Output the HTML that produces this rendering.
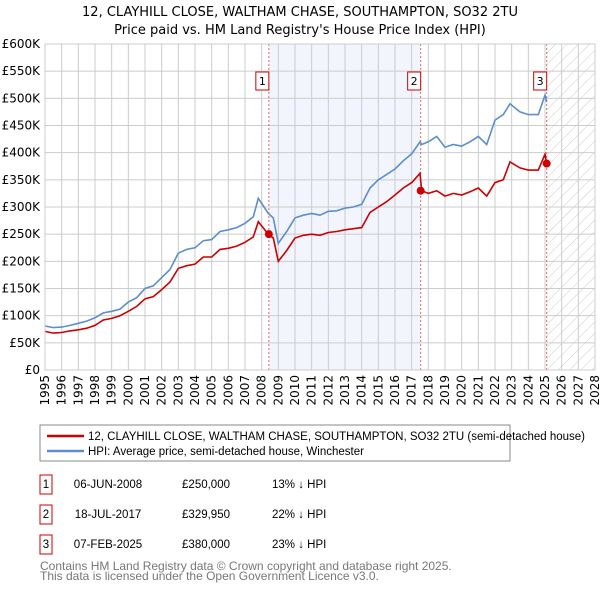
<!DOCTYPE html>
<html><head><meta charset="utf-8"><style>
body{margin:0;background:#fff;font-family:"Liberation Sans","DejaVu Sans",sans-serif;}
svg text{font-family:"DejaVu Sans","Liberation Sans",sans-serif;}
svg text.ls{font-family:"Liberation Sans",sans-serif;}
</style></head><body>
<svg id="c" width="600" height="590" xmlns="http://www.w3.org/2000/svg">
<defs><pattern id="hatch" width="8" height="8" patternUnits="userSpaceOnUse" patternTransform="rotate(45)"><line x1="0" y1="0" x2="0" y2="8" stroke="#ccc" stroke-width="1"/></pattern></defs>
<text x="300" y="16" text-anchor="middle" font-size="13">12, CLAYHILL CLOSE, WALTHAM CHASE, SOUTHAMPTON, SO32 2TU</text>
<text x="300" y="34" text-anchor="middle" font-size="13">Price paid vs. HM Land Registry's House Price Index (HPI)</text>
<g id="plot"></g>
<rect x="40" y="425" width="470" height="36" fill="#fff" stroke="#888"/>
<line x1="47" y1="436" x2="84" y2="436" stroke="#cc0000" stroke-width="2.5"/>
<text class="ls" x="88" y="440" font-size="11.5">12, CLAYHILL CLOSE, WALTHAM CHASE, SOUTHAMPTON, SO32 2TU (semi-detached house)</text>
<line x1="47" y1="451" x2="84" y2="451" stroke="#5b8dd0" stroke-width="2.5"/>
<text class="ls" x="88" y="455" font-size="11.5">HPI: Average price, semi-detached house, Winchester</text>
<g id="tbl" font-size="11.5"></g>
<text class="ls" x="40" y="570" font-size="12" fill="#777">Contains HM Land Registry data © Crown copyright and database right 2025.</text>
<text class="ls" x="40" y="580" font-size="12" fill="#777">This data is licensed under the Open Government Licence v3.0.</text>
</svg>
<script>
const dates=[1995.0,1995.5,1996.0,1996.5,1997.0,1997.5,1998.0,1998.5,1999.0,1999.5,2000.0,2000.5,2001.0,2001.5,2002.0,2002.5,2003.0,2003.5,2004.0,2004.5,2005.0,2005.5,2006.0,2006.5,2007.0,2007.5,2007.8,2008.4,2008.7,2009.0,2009.5,2010.0,2010.5,2011.0,2011.5,2012.0,2012.5,2013.0,2013.5,2014.0,2014.5,2015.0,2015.5,2016.0,2016.5,2017.0,2017.5,2017.6,2018.0,2018.5,2019.0,2019.5,2020.0,2020.5,2021.0,2021.5,2022.0,2022.5,2022.9,2023.5,2024.0,2024.6,2025.0,2025.1];
const hpiValues=[81,78,79,82,86,90,96,105,108,112,125,133,150,155,170,185,215,222,225,238,240,255,258,262,270,282,316,288,280,233,255,280,285,288,285,292,293,298,300,305,335,350,360,370,385,398,420,415,420,430,410,415,412,420,430,415,460,470,490,475,470,470,506,493];
const priceValues=[71,68,69,72,74,77,82,92,95,100,108,117,131,135,148,162,187,192,195,208,208,222,224,228,235,245,273,250,243,200,220,243,248,250,248,253,255,258,260,262,290,300,310,322,335,345,362,330,325,330,320,325,322,328,335,320,345,350,383,372,368,368,397,380];
const saleDates=[2008.43,2017.54,2025.1];
const salePrices=[250,329.95,380];
const saleLabels=["1","2","3"];
const saleDateText=["06-JUN-2008","18-JUL-2017","07-FEB-2025"];
const salePriceText=["£250,000","£329,950","£380,000"];
const saleHpiText=["13% ↓ HPI","22% ↓ HPI","23% ↓ HPI"];
const yTicks=[0,50,100,150,200,250,300,350,400,450,500,550,600];
const yTickLabels=["£0","£50K","£100K","£150K","£200K","£250K","£300K","£350K","£400K","£450K","£500K","£550K","£600K"];
const xTicks=[1995,1996,1997,1998,1999,2000,2001,2002,2003,2004,2005,2006,2007,2008,2009,2010,2011,2012,2013,2014,2015,2016,2017,2018,2019,2020,2021,2022,2023,2024,2025,2026,2027,2028];

const X0=45,X1=595,Y0=370,Y1=44;
const xs=d=>X0+(d-1995)/(2028-1995)*(X1-X0);
const ys=v=>Y0-v/600*(Y0-Y1);
const NS="http://www.w3.org/2000/svg";
const plot=document.getElementById('plot');
function mk(tag,attrs,parent){const e=document.createElementNS(NS,tag);for(const k in attrs)e.setAttribute(k,attrs[k]);(parent||plot).appendChild(e);return e;}

let e;
e=mk('rect',{x:xs(saleDates[0]),y:Y1,width:xs(saleDates[1])-xs(saleDates[0]),height:Y0-Y1,fill:'#f2f5fd'});


e=mk('rect',{x:xs(saleDates[2]),y:Y1,width:X1-xs(saleDates[2]),height:Y0-Y1,fill:'url(#hatch)'});


yTicks.forEach((t,i)=>{
  e=mk('line',{x1:X0,x2:X1,y1:ys(t),y2:ys(t),stroke:'#ccc','stroke-width':1});
  
  
  e=mk('text',{x:X0-5,y:ys(t)+4,'text-anchor':'end','font-size':12});
  e.textContent=yTickLabels[i];
  
  
});
xTicks.forEach(t=>{
  e=mk('line',{x1:xs(t),x2:xs(t),y1:Y1,y2:Y0,stroke:'#ccc','stroke-width':1});
  
  
  e=mk('text',{x:0,y:0,'text-anchor':'end','font-size':12,transform:`translate(${xs(t)+4},${Y0+5}) rotate(-90)`});
  e.textContent=t;
  
  
});
saleDates.forEach((d,i)=>{
  e=mk('line',{x1:xs(d),x2:xs(d),y1:Y1,y2:Y0,stroke:'#e66',"stroke-dasharray":'2,2','stroke-width':1});
  
  
});
function path(vals){return vals.map((v,i)=>(i?'L':'M')+xs(dates[i]).toFixed(1)+','+ys(v).toFixed(1)).join('');}
e=mk('path',{d:path(hpiValues),fill:'none',stroke:'#5b8dd0','stroke-width':1.6});


e=mk('path',{d:path(priceValues),fill:'none',stroke:'#cc0000','stroke-width':1.6});


saleDates.forEach((d,i)=>{
  e=mk('circle',{cx:xs(d),cy:ys(salePrices[i]),r:4,fill:'#cc0000'});
  
  
  e=mk('rect',{x:xs(d)-13,y:72,width:13,height:18,fill:'#fff',stroke:'#cc0000'});
  
  
  e=mk('text',{x:xs(d)-6.5,y:85,'text-anchor':'middle','font-size':11});
  e.textContent=saleLabels[i];
  
  
});
e=mk('rect',{x:X0,y:Y1,width:X1-X0,height:Y0-Y1,fill:'none',stroke:'#ccc'});



const tbl=document.getElementById('tbl');
const rowY=[484,514,544];
saleLabels.forEach((l,i)=>{
  const y=rowY[i];
  e=mk('rect',{x:40,y:y-9,width:12,height:19,fill:'#fff',stroke:'#cc0000'},tbl);
  
  
  e=mk('text',{x:46,y:y+4,'text-anchor':'middle','class':'ls'},tbl);e.textContent=l;
  
  
  e=mk('text',{x:108,y:y+4,'text-anchor':'middle','class':'ls'},tbl);e.textContent=saleDateText[i];
  
  
  e=mk('text',{x:230,y:y+4,'text-anchor':'end','class':'ls'},tbl);e.textContent=salePriceText[i];
  
  
  e=mk('text',{x:272,y:y+4,'class':'ls'},tbl);e.textContent=saleHpiText[i];
  
  
});
</script>
</body></html>
